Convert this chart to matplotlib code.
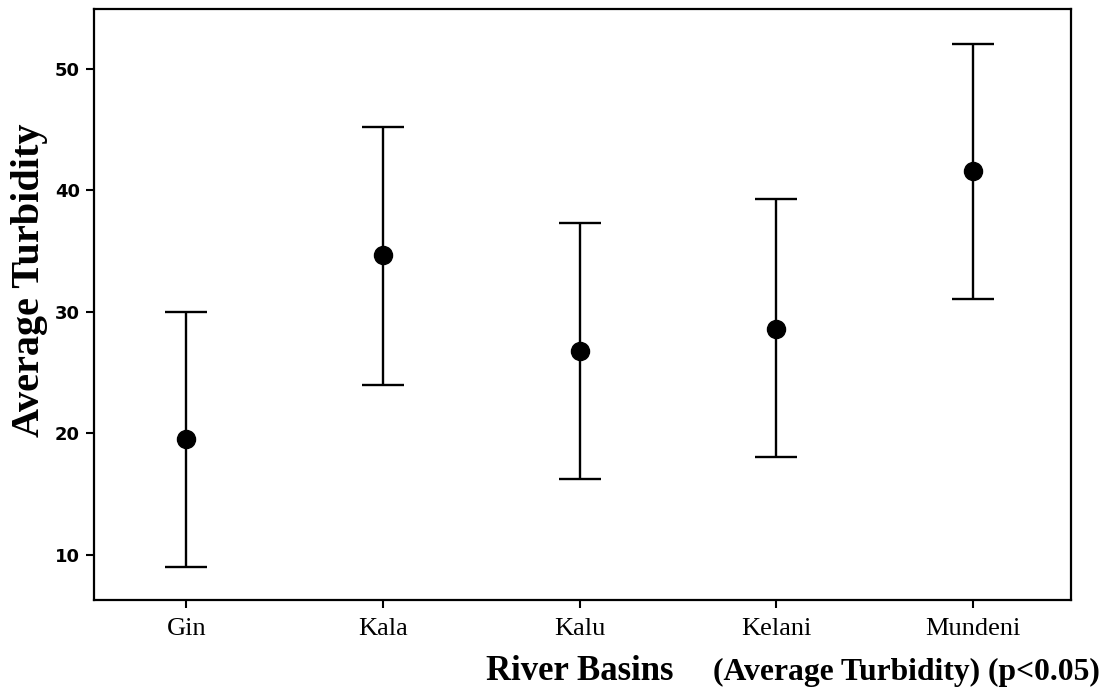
import matplotlib
matplotlib.use("Agg")
import matplotlib.pyplot as plt

basins = ["Gin", "Kala", "Kalu", "Kelani", "Mundeni"]
means = [19.55, 34.7, 26.8, 28.6, 41.6]
upper = [30.0, 45.2, 37.3, 39.3, 52.05]
lower = [9.0, 24.0, 16.25, 18.05, 31.05]
yticks = [10, 20, 30, 40, 50]

fig = plt.figure(figsize=(11.1, 6.88), dpi=100)
ax = fig.add_axes([94/1110, 1 - 600/688, (1071-94)/1110, (600-9)/688])

x = list(range(len(basins)))
err_lo = [m - l for m, l in zip(means, lower)]
err_hi = [u - m for m, u in zip(means, upper)]
ax.errorbar(x, means, yerr=[err_lo, err_hi], fmt='o', color='black',
            markersize=13, capsize=14.8, elinewidth=1.7, capthick=1.7)

ax.set_xlim(-0.47, 4.5)
ax.set_ylim(6.3, 54.9)
ax.set_yticks(yticks)
ax.set_xticks(x)
ax.set_xticklabels(basins, fontfamily="Liberation Serif", fontsize=19)
for lab in ax.get_yticklabels():
    lab.set_fontfamily("DejaVu Sans")
    lab.set_fontweight("bold")
    lab.set_fontsize(13)
ax.tick_params(axis='both', direction='out', length=6, width=1.5, color='black')
ax.tick_params(axis='x', pad=7)
ax.tick_params(axis='y', pad=4)
for s in ax.spines.values():
    s.set_linewidth(1.6)

fig.text(30/1110, 1 - 280/688, "Average Turbidity", rotation=90, ha='center', va='center',
         fontfamily="Liberation Serif", fontweight='bold', fontsize=29)
fig.text(580/1110, 1 - 680/688, "River Basins", ha='center', va='baseline',
         fontfamily="Liberation Serif", fontweight='bold', fontsize=25)
fig.text(1100/1110, 1 - 680/688, "(Average Turbidity) (p<0.05)", ha='right', va='baseline',
         fontfamily="Liberation Serif", fontweight='bold', fontsize=22.8)

fig.savefig("out.png", dpi=100)
